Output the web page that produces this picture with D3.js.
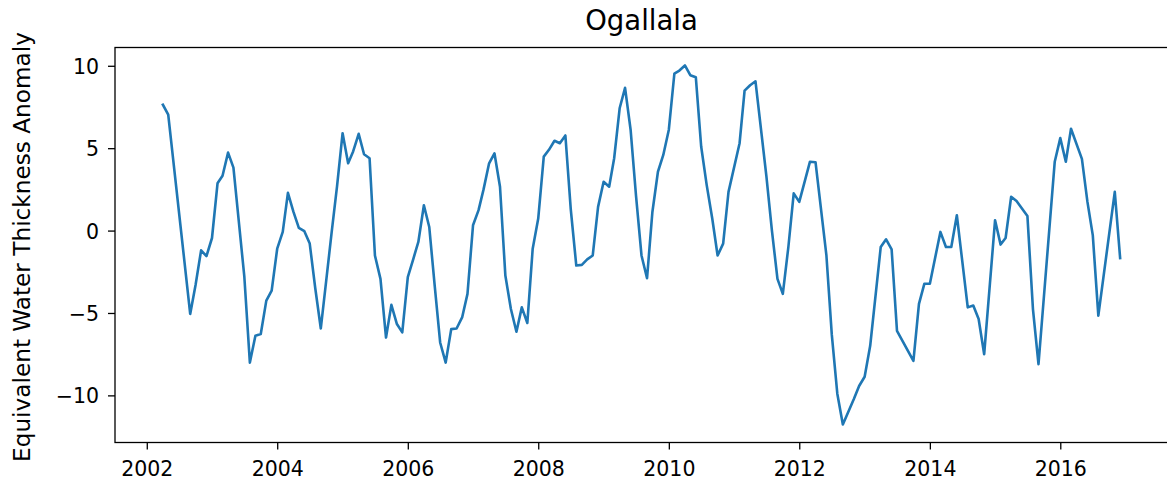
<!DOCTYPE html>
<html>
<head>
<meta charset="utf-8">
<script src="https://cdn.jsdelivr.net/npm/d3@7"></script>
<style>
  html, body { margin: 0; padding: 0; background: #ffffff; }
  svg { display: block; }
  text { font-family: "DejaVu Sans", sans-serif; fill: #000; }
</style>
</head>
<body>
<svg id="chart" width="1167" height="488"></svg>
<script>
// ---- data ----
const chartTitle = "Ogallala";
const yLabel = "Equivalent Water Thickness Anomaly";

const months = [
  "2002-04","2002-05","2002-08","2002-09","2002-10","2002-11","2002-12",
  "2003-01","2003-02","2003-03","2003-04","2003-05","2003-07","2003-08","2003-09","2003-10","2003-11","2003-12",
  "2004-01","2004-02","2004-03","2004-04","2004-05","2004-06","2004-07","2004-08","2004-09","2004-10","2004-11","2004-12",
  "2005-01","2005-02","2005-03","2005-04","2005-05","2005-06","2005-07","2005-08","2005-09","2005-10","2005-11","2005-12",
  "2006-01","2006-02","2006-03","2006-04","2006-05","2006-06","2006-07","2006-08","2006-09","2006-10","2006-11","2006-12",
  "2007-01","2007-02","2007-03","2007-04","2007-05","2007-06","2007-07","2007-08","2007-09","2007-10","2007-11","2007-12",
  "2008-01","2008-02","2008-03","2008-04","2008-05","2008-06","2008-07","2008-08","2008-09","2008-10","2008-11","2008-12",
  "2009-01","2009-02","2009-03","2009-04","2009-05","2009-06","2009-07","2009-08","2009-09","2009-10","2009-11","2009-12",
  "2010-01","2010-02","2010-03","2010-04","2010-05","2010-06","2010-07","2010-08","2010-09","2010-10","2010-11","2010-12",
  "2011-02","2011-03","2011-04","2011-05","2011-07","2011-08","2011-09","2011-10","2011-11","2011-12",
  "2012-01","2012-02","2012-03","2012-04","2012-06","2012-07","2012-08","2012-09","2012-11","2012-12",
  "2013-01","2013-02","2013-04","2013-05","2013-06","2013-07","2013-10","2013-11","2013-12",
  "2014-01","2014-03","2014-04","2014-05","2014-06","2014-08","2014-09","2014-10","2014-11",
  "2015-01","2015-02","2015-03","2015-04","2015-05","2015-07","2015-08","2015-09","2015-12",
  "2016-01","2016-02","2016-03","2016-05","2016-06","2016-07","2016-08","2016-11","2016-12"
];

const ewtAnomaly = [
  7.64, 7.03, -2.0, -5.06, -3.3, -1.20, -1.55,
  -0.45, 2.87, 3.33, 4.73, 3.82, -2.8, -8.01, -6.38, -6.28, -4.25, -3.64,
  -1.10, -0.08, 2.29, 1.13, 0.16, -0.04, -0.79, -3.5, -5.94, -3.07, -0.08, 2.7,
  5.91, 4.08, 4.8, 5.87, 4.63, 4.39, -1.51, -2.93, -6.49, -4.51, -5.67, -6.18,
  -2.83, -1.71, -0.69, 1.54, 0.22, -3.4, -6.79, -8.01, -5.98, -5.94, -5.27, -3.84,
  0.32, 1.24, 2.5, 4.08, 4.69, 2.66, -2.73, -4.76, -6.14, -4.66, -5.61, -1.10,
  0.73, 4.49, 4.90, 5.45, 5.30, 5.77, 1.3, -2.12, -2.08, -1.75, -1.51, 1.44,
  2.96, 2.66, 4.39, 7.44, 8.66, 6.12, 2.15, -1.51, -2.89, 1.13, 3.57, 4.59,
  6.12, 9.53, 9.71, 10.02, 9.43, 9.31, 5.10, 2.76, 0.73, -1.51, -0.79, 2.35,
  5.30, 8.49, 8.82, 9.06, 3.3, 0.0, -2.93, -3.84, -1.0, 2.26,
  1.74, 3.0, 4.18, 4.15, -1.51, -6.3, -9.9, -11.77, -10.24, -9.43,
  -8.87, -6.99, -1.0, -0.53, -1.14, -6.08, -7.91, -4.45, -3.23,
  -3.23, -0.08, -1.0, -1.0, 0.93, -4.66, -4.55, -5.37, -7.5,
  0.63, -0.85, -0.45, 2.05, 1.79, 0.89, -4.76, -8.11, 4.18,
  5.61, 4.18, 6.18, 4.35, 1.74, -0.29, -5.16, 2.35, -1.67
];

const xTickYears = [2002, 2004, 2006, 2008, 2010, 2012, 2014, 2016];
const yTicks = [-10, -5, 0, 5, 10];

// ---- layout ----
const W = 1167, H = 488;
const plot = { left: 115, right: 1168, top: 47.5, bottom: 442.5 };
const tickLen = 7, tickPad = 8;
const tickFont = 20.5, labelFont = 23.2, titleFont = 27.5;

const parse = d3.timeParse("%Y-%m");
const data = months.map((m, i) => ({ date: parse(m), value: ewtAnomaly[i] }));

const svg = d3.select("#chart");

// matplotlib-like 5% margins
const tExt = d3.extent(data, d => d.date.getTime());
const tPad = (tExt[1] - tExt[0]) * 0.05;
const vExt = d3.extent(data, d => d.value);
const vPad = (vExt[1] - vExt[0]) * 0.05;

const x = d3.scaleTime()
  .domain([new Date(tExt[0] - tPad), new Date(tExt[1] + tPad)])
  .range([plot.left, plot.right]);
const y = d3.scaleLinear()
  .domain([vExt[0] - vPad, vExt[1] + vPad])
  .range([plot.bottom, plot.top]);

// line
const line = d3.line().x(d => x(d.date)).y(d => y(d.value));
svg.append("path")
  .datum(data)
  .attr("d", line)
  .attr("fill", "none")
  .attr("stroke", "#1f77b4")
  .attr("stroke-width", 2.6)
  .attr("stroke-linejoin", "round")
  .attr("stroke-linecap", "square");

// axes
const xAxis = d3.axisBottom(x)
  .tickValues(xTickYears.map(yr => new Date(yr, 0, 1)))
  .tickFormat(d3.timeFormat("%Y"))
  .tickSize(tickLen).tickPadding(tickPad);
const gx = svg.append("g")
  .attr("transform", `translate(0,${plot.bottom})`)
  .call(xAxis);
gx.select(".domain").remove();
gx.selectAll(".tick line").attr("stroke", "#000").attr("stroke-width", 1.3);
gx.selectAll(".tick text")
  .attr("font-family", "DejaVu Sans")
  .attr("font-size", tickFont)
  .attr("fill", "#000")
  .attr("dy", null)
  .attr("y", tickLen + tickPad + 18);

const fmtMinus = v => (v < 0 ? "\u2212" + Math.abs(v) : String(v));
const yAxis = d3.axisLeft(y)
  .tickValues(yTicks)
  .tickFormat(fmtMinus)
  .tickSize(tickLen).tickPadding(tickPad + 1);
const gy = svg.append("g")
  .attr("transform", `translate(${plot.left},0)`)
  .call(yAxis);
gy.select(".domain").remove();
gy.selectAll(".tick line").attr("stroke", "#000").attr("stroke-width", 1.3);
gy.selectAll(".tick text")
  .attr("font-family", "DejaVu Sans")
  .attr("font-size", tickFont)
  .attr("fill", "#000")
  .attr("dy", null)
  .attr("y", 7.5);

// frame (spines)
svg.append("rect")
  .attr("x", plot.left).attr("y", plot.top)
  .attr("width", plot.right - plot.left)
  .attr("height", plot.bottom - plot.top)
  .attr("fill", "none")
  .attr("stroke", "#000")
  .attr("stroke-width", 1.3);

// title
svg.append("text")
  .attr("x", (plot.left + plot.right) / 2)
  .attr("y", 30)
  .attr("text-anchor", "middle")
  .attr("font-size", titleFont)
  .text(chartTitle);

// y label
svg.append("text")
  .attr("transform", `translate(30,${(plot.top + plot.bottom) / 2 + 2}) rotate(-90)`)
  .attr("text-anchor", "middle")
  .attr("font-size", labelFont)
  .text(yLabel);
</script>
</body>
</html>
